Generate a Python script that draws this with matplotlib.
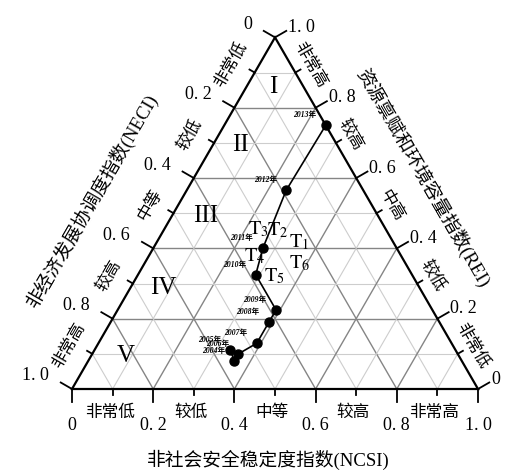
import numpy as np
import matplotlib
matplotlib.use('Agg')
import matplotlib.pyplot as plt

plt.rcParams['font.family'] = ['Liberation Serif', 'Noto Sans CJK SC']
plt.rcParams['mathtext.fontset'] = 'stix'

# 各年份三元坐标 (NCSI, NECI, REI)
YEARS = ['2004年', '2005年', '2006年', '2007年', '2008年',
         '2009年', '2010年', '2011年', '2012年', '2013年']
NCSI = [0.36, 0.335, 0.36, 0.39, 0.39, 0.39, 0.29, 0.27, 0.245, 0.25]
NECI = [0.56, 0.555, 0.54, 0.48, 0.42, 0.385, 0.385, 0.33, 0.19, 0.0]
REI = [0.08, 0.11, 0.10, 0.13, 0.19, 0.225, 0.325, 0.40, 0.565, 0.75]

TICK_VALS = [0, 0.2, 0.4, 0.6, 0.8, 1.0]
TICK_TEXT = ['0', '0. 2', '0. 4', '0. 6', '0. 8', '1. 0']
GRADES_LOW_HIGH = ['非常低', '较低', '中等', '较高', '非常高']
GRADES_REI = ['非常低', '较低', '中高', '较高', '非常高']

ZONE_NAMES = ['I', 'II', 'III', 'IV', 'V']
ZONE_NCSI = [0.067, 0.069, 0.084, 0.081, 0.086]
ZONE_REI = [0.859, 0.694, 0.492, 0.287, 0.094]

T_NAMES = ['1', '2', '3', '4', '5', '6']
T_NCSI = [0.326, 0.255, 0.207, 0.235, 0.314, 0.357]
T_REI = [0.418, 0.452, 0.455, 0.378, 0.319, 0.356]

PX = 406.0  # 每单位边长的像素数
S3 = np.sqrt(3) / 2


def proj(a, c, b=None):
    """三元 -> 直角坐标, a=NCSI, c=REI"""
    a = np.asarray(a, float)
    c = np.asarray(c, float)
    if b is not None:
        s = a + np.asarray(b, float) + c
        a, c = a / s, c / s
    return a + c / 2, c * S3


fig = plt.figure(figsize=(5.07, 4.70), dpi=100)
ax = fig.add_axes([0, 0, 1, 1])
ax.set_xlim(-72 / PX, (507 - 72) / PX)
ax.set_ylim(-(470 - 389) / PX, 389 / PX)
ax.axis('off')

# 网格
for i in range(1, 10):
    t = i / 10
    major = i % 2 == 0
    col = '#858585' if major else '#cdcdcd'
    lw = 1.0 if major else 0.8
    # REI = t
    x, y = proj([0, 1 - t], [t, t])
    ax.plot(x, y, color=col, lw=lw, zorder=1)
    # NCSI = t
    x, y = proj([t, t], [0, 1 - t])
    ax.plot(x, y, color=col, lw=lw, zorder=1)
    # NECI = t
    x, y = proj([1 - t, 0], [0, 1 - t])
    ax.plot(x, y, color=col, lw=lw, zorder=1)

# 三角形边框
x, y = proj([0, 1, 0, 0], [0, 0, 1, 0])
ax.plot(x, y, color='black', lw=1.6, zorder=3, solid_joinstyle='miter')

# 刻度
n_left = np.array([-S3, 0.5])
n_right = np.array([S3, 0.5])
n_bot = np.array([0, -1.0])
for i in range(11):
    t = i / 10
    ln = (13 if i % 2 == 0 else 6) / PX
    # 底边 NCSI
    p = np.array(proj(t, 0))
    q = p + n_bot * ln
    ax.plot([p[0], q[0]], [p[1], q[1]], color='black', lw=1.3, zorder=3)
    # 左边 NECI
    p = np.array(proj(0, 1 - t))
    q = p + n_left * ln
    ax.plot([p[0], q[0]], [p[1], q[1]], color='black', lw=1.3, zorder=3)
    # 右边 REI
    p = np.array(proj(1 - t, t))
    q = p + n_right * ln
    ax.plot([p[0], q[0]], [p[1], q[1]], color='black', lw=1.3, zorder=3)

num_kw = dict(fontsize=13, family='Liberation Serif')
for v, s in zip(TICK_VALS, TICK_TEXT):
    x, y = proj(v, 0)
    ax.text(x, y - 36 / PX, s, ha='center', va='center', **num_kw)
    x, y = proj(0, 1 - v)
    ax.text(x - 23 / PX, y + 13 / PX, s, ha='right', va='center', **num_kw)
    x, y = proj(1 - v, v)
    ax.text(x + 13 / PX, y + 10 / PX, s, ha='left', va='center', **num_kw)

cat_kw = dict(fontsize=12, family=['Noto Sans CJK SC'])
for k in range(5):
    t = 0.1 + 0.2 * k
    x, y = proj(t, 0)
    ax.text(x - 3 / PX, y - 23 / PX, GRADES_LOW_HIGH[k], ha='center', va='center', **cat_kw)
    x, y = proj(0, 1 - t)
    ax.text(x - 24 / PX, y + 8 / PX, GRADES_LOW_HIGH[k], ha='center', va='center',
            rotation=60, rotation_mode='anchor', **cat_kw)
    x, y = proj(1 - t, t)
    ax.text(x + 15 / PX, y + 8 / PX, GRADES_REI[k], ha='center', va='center',
            rotation=-60, rotation_mode='anchor', **cat_kw)

title_kw = dict(fontsize=13.5, ha='center', va='center', rotation_mode='anchor')
ax.text((268 - 72) / PX, (389 - 460) / PX, '非社会安全稳定度指数(NCSI)', **title_kw)
ax.text((92 - 72) / PX, (389 - 200) / PX, '非经济发展协调度指数(NECI)', rotation=60, **title_kw)
ax.text((423 - 72) / PX, (389 - 178) / PX, '资源禀赋和环境容量指数(REI)', rotation=-60, **title_kw)

# 分区编号
for name, a, c in zip(ZONE_NAMES, ZONE_NCSI, ZONE_REI):
    x, y = proj(a, c)
    ax.text(x, y, name, fontsize=18, family='Liberation Serif', ha='center', va='center', zorder=4)

for name, a, c in zip(T_NAMES, T_NCSI, T_REI):
    x, y = proj(a, c)
    ax.text(x, y, r'$\mathrm{T}_{%s}$' % name, fontsize=14.5, ha='left', va='center', zorder=4)

# 年份轨迹
x, y = proj(NCSI, REI, NECI)
ax.plot(x, y, color='black', lw=1.2, marker='o', markersize=6.5, zorder=5)
for xi, yi, yr in zip(x, y, YEARS):
    ax.annotate(yr, (xi, yi), xytext=(-21, 10), textcoords='offset pixels',
                ha='center', va='center', fontsize=5.5, fontweight='bold', fontstyle='italic',
                zorder=6)

fig.savefig('out.png', dpi=100)
